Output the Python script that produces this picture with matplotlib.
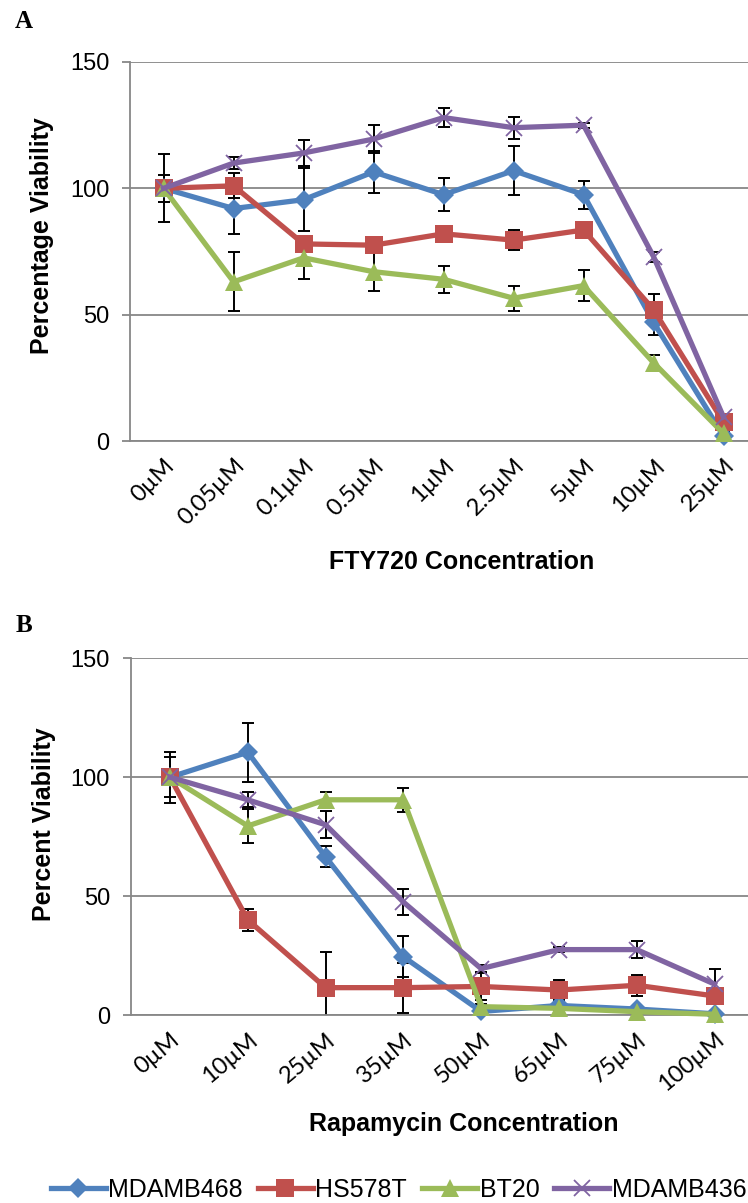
import matplotlib
matplotlib.use('Agg')
import matplotlib.pyplot as plt

plt.rcParams['font.family'] = ['Liberation Sans', 'DejaVu Sans']

# Panel A: FTY720
fty_labels = ['0µM', '0.05µM', '0.1µM', '0.5µM', '1µM', '2.5µM', '5µM', '10µM', '25µM']
mdamb468_a = [100, 92, 95.5, 106.5, 97.5, 107, 97.5, 47, 2]
mdamb468_a_err = [13.5, 10, 12.5, 8.3, 6.6, 9.6, 5.6, 5, 1]
hs578t_a = [100, 101, 78, 77.5, 82, 79.5, 83.5, 52, 7.5]
hs578t_a_err = [3, 5, 3, 3, 2, 4, 3, 6, 1]
bt20_a = [100, 63, 72.5, 67, 64, 56.5, 61.5, 31, 3]
bt20_a_err = [5.3, 11.7, 8.3, 7.5, 5.3, 5, 6.2, 3, 1]
mdamb436_a = [100, 110, 114, 119.5, 128, 124, 125, 73, 9.5]
mdamb436_a_err = [3, 2.5, 5, 5.5, 3.8, 4.4, 1, 2, 1]

# Panel B: Rapamycin
rapa_labels = ['0µM', '10µM', '25µM', '35µM', '50µM', '65µM', '75µM', '100µM']
mdamb468_b = [100, 110.5, 66.5, 24.5, 1.5, 4, 2.5, 0.5]
mdamb468_b_err = [10.7, 12.5, 4.4, 8.7, 1.5, 1, 1, 0.5]
hs578t_b = [100, 40, 11.5, 11.5, 12, 10.5, 12.5, 8]
hs578t_b_err = [3, 4.5, 15, 10.5, 5.5, 4.2, 4.5, 2]
bt20_b = [100, 79.5, 90.5, 90.5, 3.5, 2.8, 1.4, 0.3]
bt20_b_err = [8.4, 7, 3.2, 5, 1, 1, 1, 0.5]
mdamb436_b = [100, 90.5, 80, 47.5, 19.5, 27.5, 27.5, 13]
mdamb436_b_err = [3, 3.2, 5.6, 5.6, 1.5, 1, 3.5, 6.5]

names = ['MDAMB468', 'HS578T', 'BT20', 'MDAMB436']
colors = ['#4F81BD', '#C0504D', '#9BBB59', '#8064A2']
markers = ['D', 's', '^', 'x']
msizes = [10, 12.5, 12.5, 12]
grey = '#878787'


def draw_panel(ax, labels, series, errors, xlim):
    x = list(range(len(labels)))
    lines = []
    for y, e, name, c, m, ms in zip(series, errors, names, colors, markers, msizes):
        ax.errorbar(x, y, yerr=e, fmt='none', ecolor='black', elinewidth=1.4,
                    capsize=4, capthick=1.4, zorder=2)
        ln, = ax.plot(x, y, color=c, lw=3.8, marker=m, ms=ms, mew=1.3 if m == 'x' else 0,
                      mec=c, label=name, clip_on=False, zorder=3)
        lines.append(ln)
    ax.set_xlim(*xlim)
    ax.set_ylim(0, 150)
    ax.set_yticks([0, 50, 100, 150])
    ax.yaxis.grid(True, color=grey, lw=1.3)
    ax.set_axisbelow(True)
    for s in ['top', 'right']:
        ax.spines[s].set_visible(False)
    for s in ['left', 'bottom']:
        ax.spines[s].set_color(grey)
        ax.spines[s].set_linewidth(1.3)
    ax.tick_params(axis='y', length=6, color=grey, width=1.3, labelsize=17, pad=9)
    ax.tick_params(axis='x', length=0, pad=10)
    ax.set_xticks(x)
    return lines


fig = plt.figure(figsize=(7.48, 12.03), dpi=100)

ax1 = fig.add_axes([130 / 748, (1203 - 441) / 1203, 618 / 748, 379 / 1203])
lines = draw_panel(ax1, fty_labels,
                   [mdamb468_a, hs578t_a, bt20_a, mdamb436_a],
                   [mdamb468_a_err, hs578t_a_err, bt20_a_err, mdamb436_a_err],
                   (-0.48, 8.35))
ax1.set_xticklabels(fty_labels, rotation=45, ha='right', rotation_mode='anchor',
                    family=['Lato', 'DejaVu Sans'], fontsize=17)

ax2 = fig.add_axes([130.7 / 748, 188 / 1203, 617.3 / 748, 356.7 / 1203])
draw_panel(ax2, rapa_labels,
           [mdamb468_b, hs578t_b, bt20_b, mdamb436_b],
           [mdamb468_b_err, hs578t_b_err, bt20_b_err, mdamb436_b_err],
           (-0.505, 7.43))
ax2.set_xticklabels(rapa_labels, rotation=40, ha='right', rotation_mode='anchor',
                    family=['Lato', 'DejaVu Sans'], fontsize=17)

# axis titles and panel letters
fig.text(42 / 748, 1 - 236 / 1203, 'Percentage Viability', rotation=90,
         ha='center', va='center', fontsize=18, fontweight='bold')
fig.text(44 / 748, 1 - 824 / 1203, 'Percent Viability', rotation=90,
         ha='center', va='center', fontsize=18, fontweight='bold')
fig.text(462 / 748, 1 - 562 / 1203, 'FTY720 Concentration',
         ha='center', va='center', fontsize=18, fontweight='bold')
fig.text(463.5 / 748, 1 - 1124 / 1203, 'Rapamycin Concentration',
         ha='center', va='center', fontsize=18, fontweight='bold')
fig.text(24 / 748, 1 - 22 / 1203, 'A', ha='center', va='center', fontsize=18,
         fontweight='bold', family='Liberation Serif')
fig.text(24 / 748, 1 - 626 / 1203, 'B', ha='center', va='center', fontsize=18,
         fontweight='bold', family='Liberation Serif')

fig.legend(lines, names, loc='center', bbox_to_anchor=(0.533, 0.0108), ncol=4,
           frameon=False, fontsize=18, handlelength=2.2, handletextpad=0.1,
           columnspacing=0.6, borderaxespad=0)

fig.savefig('out.png', dpi=100)
